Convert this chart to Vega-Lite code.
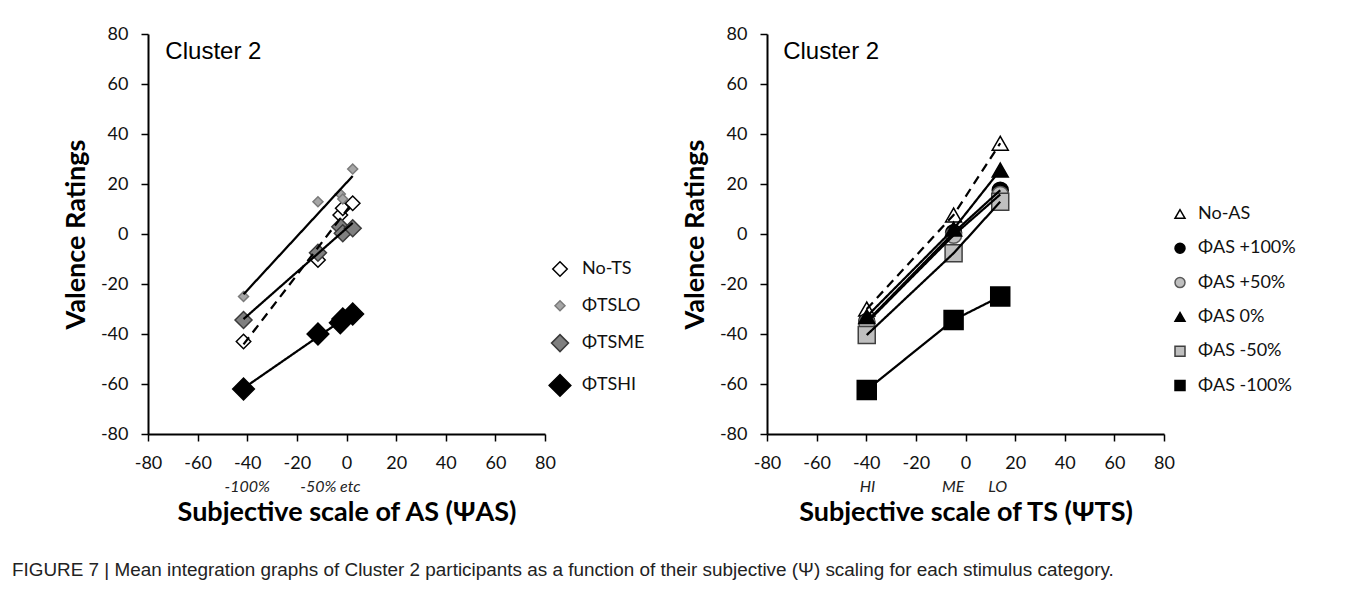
{
  "$schema": "https://vega.github.io/schema/vega-lite/v6.json",
  "background": "white",
  "padding": {"left": 12, "top": 25, "right": 5, "bottom": 5},
  "autosize": {"type": "pad"},
  "bounds": "flush",
  "spacing": 222,
  "config": {
    "view": {"stroke": null},
    "axis": {
      "grid": false,
      "domainColor": "black",
      "domainWidth": 2,
      "tickColor": "black",
      "tickWidth": 1.5,
      "tickSize": 7,
      "labelFont": "Lato",
      "labelFontSize": 18,
      "labelColor": "#111",
      "labelFlush": false,
      "labelExpr": "'' + datum.value",
      "titleFont": "Lato",
      "titleFontSize": 27,
      "titleFontWeight": "bold",
      "titleColor": "black"
    },
    "axisX": {"labelPadding": 13, "titlePadding": 27},
    "axisY": {"labelPadding": 13, "titlePadding": 10}
  },
  "title": {
    "text": "FIGURE 7 | Mean integration graphs of Cluster 2 participants as a function of their subjective (Ψ) scaling for each stimulus category.",
    "orient": "bottom",
    "anchor": "start",
    "frame": "group",
    "dx": -136,
    "offset": 36,
    "font": "Liberation Sans",
    "fontSize": 18.9,
    "fontWeight": "normal",
    "color": "#222"
  },
  "datasets": {
    "asPoints": [
      {"series": "No-TS", "psi": -41.5, "valence": -43},
      {"series": "No-TS", "psi": -11.5, "valence": -10.4},
      {"series": "No-TS", "psi": -2.5, "valence": 7.6},
      {"series": "No-TS", "psi": -1.5, "valence": 10.3},
      {"series": "No-TS", "psi": 2.5, "valence": 12.3},
      {"series": "\u00a0ΦTSLO", "psi": -41.5, "valence": -25},
      {"series": "\u00a0ΦTSLO", "psi": -11.5, "valence": 12.9},
      {"series": "\u00a0ΦTSLO", "psi": -2.5, "valence": 16},
      {"series": "\u00a0ΦTSLO", "psi": -1.5, "valence": 14},
      {"series": "\u00a0ΦTSLO", "psi": 2.5, "valence": 26},
      {"series": "ΦTSME", "psi": -41.5, "valence": -34.4},
      {"series": "ΦTSME", "psi": -11.5, "valence": -7.5},
      {"series": "ΦTSME", "psi": -2.5, "valence": 2.9},
      {"series": "ΦTSME", "psi": -1.5, "valence": 0.3},
      {"series": "ΦTSME", "psi": 2.5, "valence": 2.3},
      {"series": "ΦTSHI", "psi": -41.5, "valence": -62},
      {"series": "ΦTSHI", "psi": -11.5, "valence": -40},
      {"series": "ΦTSHI", "psi": -2.5, "valence": -35.5},
      {"series": "ΦTSHI", "psi": -1.5, "valence": -34},
      {"series": "ΦTSHI", "psi": 2.5, "valence": -32}
    ],
    "tsPoints": [
      {"series": "No-AS", "psi": -39.8, "valence": -30},
      {"series": "No-AS", "psi": -4.8, "valence": 7.6},
      {"series": "No-AS", "psi": 14, "valence": 36.3},
      {"series": "ΦAS +100%", "psi": -39.8, "valence": -35},
      {"series": "ΦAS +100%", "psi": -4.8, "valence": 0.5},
      {"series": "ΦAS +100%", "psi": 14, "valence": 17.5},
      {"series": "ΦAS +50%", "psi": -39.8, "valence": -35.5},
      {"series": "ΦAS +50%", "psi": -4.8, "valence": -0.5},
      {"series": "ΦAS +50%", "psi": 14, "valence": 15.8},
      {"series": "ΦAS 0%", "psi": -39.8, "valence": -33},
      {"series": "ΦAS 0%", "psi": -4.8, "valence": 2},
      {"series": "ΦAS 0%", "psi": 14, "valence": 25.6},
      {"series": "ΦAS -50%", "psi": -39.8, "valence": -40.4},
      {"series": "ΦAS -50%", "psi": -4.8, "valence": -7.7},
      {"series": "ΦAS -50%", "psi": 14, "valence": 12.9},
      {"series": "ΦAS -100%", "psi": -39.8, "valence": -62.4},
      {"series": "ΦAS -100%", "psi": -4.8, "valence": -34.4},
      {"series": "ΦAS -100%", "psi": 14, "valence": -25}
    ],
    "asNotes": [
      {"label": "Cluster 2", "psi": -73, "valence": 73, "kind": "head"},
      {"label": "-100%", "psi": -40, "valence": -101, "kind": "note"},
      {"label": "-50% etc", "psi": -6.5, "valence": -101, "kind": "note"}
    ],
    "tsNotes": [
      {"label": "Cluster 2", "psi": -73.5, "valence": 73, "kind": "head"},
      {"label": "HI", "psi": -39.5, "valence": -101, "kind": "note"},
      {"label": "ME", "psi": -5, "valence": -101, "kind": "note"},
      {"label": "LO", "psi": 13, "valence": -101, "kind": "note"}
    ]
  },
  "resolve": {
    "scale": {"x": "independent", "y": "independent", "shape": "independent", "fill": "independent", "stroke": "independent", "size": "independent"},
    "legend": {"shape": "independent", "fill": "independent", "stroke": "independent", "size": "independent"}
  },
  "hconcat": [
    {
      "width": 397,
      "height": 400,
      "layer": [
        {
          "data": {"name": "asPoints"},
          "mark": {"type": "point", "opacity": 1, "strokeWidth": 1.5},
          "encoding": {
            "x": {"field": "psi", "type": "quantitative", "scale": {"domain": [-80, 80]}, "axis": {"values": [-80, -60, -40, -20, 0, 20, 40, 60, 80], "title": "Subjective scale of AS (ΨAS)"}},
            "y": {"field": "valence", "type": "quantitative", "scale": {"domain": [-80, 80]}, "axis": {"values": [-80, -60, -40, -20, 0, 20, 40, 60, 80], "title": "Valence Ratings"}},
            "shape": {"field": "series", "type": "nominal", "scale": {"domain": ["No-TS", "\u00a0ΦTSLO", "ΦTSME", "ΦTSHI"], "range": ["diamond", "diamond", "diamond", "diamond"]},
              "legend": {"title": null, "orient": "none", "legendX": 400, "legendY": 226, "rowPadding": 16.8, "labelFont": "Lato", "labelFontSize": 18, "labelColor": "#111", "labelOffset": 10}},
            "fill": {"field": "series", "type": "nominal", "scale": {"domain": ["No-TS", "\u00a0ΦTSLO", "ΦTSME", "ΦTSHI"], "range": ["white", "#a6a6a6", "#7f7f7f", "black"]},
              "legend": {"title": null, "orient": "none", "legendX": 400, "legendY": 226, "rowPadding": 16.8, "labelFont": "Lato", "labelFontSize": 18, "labelColor": "#111", "labelOffset": 10}},
            "stroke": {"field": "series", "type": "nominal", "scale": {"domain": ["No-TS", "\u00a0ΦTSLO", "ΦTSME", "ΦTSHI"], "range": ["black", "#7a7a7a", "#3a3a3a", "black"]},
              "legend": {"title": null, "orient": "none", "legendX": 400, "legendY": 226, "rowPadding": 16.8, "labelFont": "Lato", "labelFontSize": 18, "labelColor": "#111", "labelOffset": 10}},
            "size": {"field": "series", "type": "nominal", "scale": {"type": "ordinal", "domain": ["No-TS", "\u00a0ΦTSLO", "ΦTSME", "ΦTSHI"], "range": [210, 100, 289, 470]},
              "legend": {"title": null, "orient": "none", "legendX": 400, "legendY": 226, "rowPadding": 16.8, "labelFont": "Lato", "labelFontSize": 18, "labelColor": "#111", "labelOffset": 10}}
          }
        },
        {
          "data": {"name": "asPoints"},
          "transform": [{"regression": "valence", "on": "psi", "groupby": ["series"]}],
          "mark": {"type": "line", "color": "black", "strokeWidth": 2.25},
          "encoding": {
            "x": {"field": "psi", "type": "quantitative"},
            "y": {"field": "valence", "type": "quantitative"},
            "detail": {"field": "series", "type": "nominal"},
            "strokeDash": {"condition": {"test": "datum.series === 'No-TS'", "value": [9, 6]}, "value": [1, 0]}
          }
        },
        {
          "data": {"name": "asNotes"},
          "transform": [{"filter": "datum.kind === 'head'"}],
          "mark": {"type": "text", "align": "left", "baseline": "middle", "font": "Liberation Sans", "fontSize": 24, "color": "black"},
          "encoding": {
            "x": {"field": "psi", "type": "quantitative"},
            "y": {"field": "valence", "type": "quantitative"},
            "text": {"field": "label"}
          }
        },
        {
          "data": {"name": "asNotes"},
          "transform": [{"filter": "datum.kind === 'note'"}],
          "mark": {"type": "text", "align": "center", "baseline": "middle", "font": "Lato", "fontStyle": "italic", "fontSize": 16, "color": "#222"},
          "encoding": {
            "x": {"field": "psi", "type": "quantitative"},
            "y": {"field": "valence", "type": "quantitative"},
            "text": {"field": "label"}
          }
        }
      ]
    },
    {
      "width": 397,
      "height": 400,
      "layer": [
        {
          "data": {"name": "tsPoints"},
          "mark": {"type": "point", "opacity": 1, "strokeWidth": 1.5},
          "encoding": {
            "x": {"field": "psi", "type": "quantitative", "scale": {"domain": [-80, 80]}, "axis": {"values": [-80, -60, -40, -20, 0, 20, 40, 60, 80], "title": "Subjective scale of TS (ΨTS)"}},
            "y": {"field": "valence", "type": "quantitative", "scale": {"domain": [-80, 80]}, "axis": {"values": [-80, -60, -40, -20, 0, 20, 40, 60, 80], "title": "Valence Ratings"}},
            "shape": {"field": "series", "type": "nominal", "scale": {"domain": ["No-AS", "ΦAS +100%", "ΦAS +50%", "ΦAS 0%", "ΦAS -50%", "ΦAS -100%"], "range": ["triangle-up", "circle", "circle", "triangle-up", "square", "square"]},
              "legend": {"title": null, "orient": "none", "legendX": 404, "legendY": 171, "rowPadding": 16.3, "labelFont": "Lato", "labelFontSize": 18, "labelColor": "#111", "labelOffset": 9}},
            "fill": {"field": "series", "type": "nominal", "scale": {"domain": ["No-AS", "ΦAS +100%", "ΦAS +50%", "ΦAS 0%", "ΦAS -50%", "ΦAS -100%"], "range": ["white", "black", "#bfbfbf", "black", "#bfbfbf", "black"]},
              "legend": {"title": null, "orient": "none", "legendX": 404, "legendY": 171, "rowPadding": 16.3, "labelFont": "Lato", "labelFontSize": 18, "labelColor": "#111", "labelOffset": 9}},
            "stroke": {"field": "series", "type": "nominal", "scale": {"domain": ["No-AS", "ΦAS +100%", "ΦAS +50%", "ΦAS 0%", "ΦAS -50%", "ΦAS -100%"], "range": ["black", "black", "#595959", "black", "#404040", "black"]},
              "legend": {"title": null, "orient": "none", "legendX": 404, "legendY": 171, "rowPadding": 16.3, "labelFont": "Lato", "labelFontSize": 18, "labelColor": "#111", "labelOffset": 9}},
            "size": {"condition": [
              {"test": "datum.series === 'ΦAS -100%'", "value": 361},
              {"test": "datum.series === 'ΦAS -50%'", "value": 289}
            ], "value": 256}
          }
        },
        {
          "data": {"name": "tsPoints"},
          "mark": {"type": "line", "color": "black", "strokeWidth": 2.25},
          "encoding": {
            "x": {"field": "psi", "type": "quantitative"},
            "y": {"field": "valence", "type": "quantitative"},
            "detail": {"field": "series", "type": "nominal"},
            "strokeDash": {"condition": {"test": "datum.series === 'No-AS'", "value": [9, 6]}, "value": [1, 0]}
          }
        },
        {
          "data": {"name": "tsNotes"},
          "transform": [{"filter": "datum.kind === 'head'"}],
          "mark": {"type": "text", "align": "left", "baseline": "middle", "font": "Liberation Sans", "fontSize": 24, "color": "black"},
          "encoding": {
            "x": {"field": "psi", "type": "quantitative"},
            "y": {"field": "valence", "type": "quantitative"},
            "text": {"field": "label"}
          }
        },
        {
          "data": {"name": "tsNotes"},
          "transform": [{"filter": "datum.kind === 'note'"}],
          "mark": {"type": "text", "align": "center", "baseline": "middle", "font": "Lato", "fontStyle": "italic", "fontSize": 16, "color": "#222"},
          "encoding": {
            "x": {"field": "psi", "type": "quantitative"},
            "y": {"field": "valence", "type": "quantitative"},
            "text": {"field": "label"}
          }
        }
      ]
    }
  ]
}
